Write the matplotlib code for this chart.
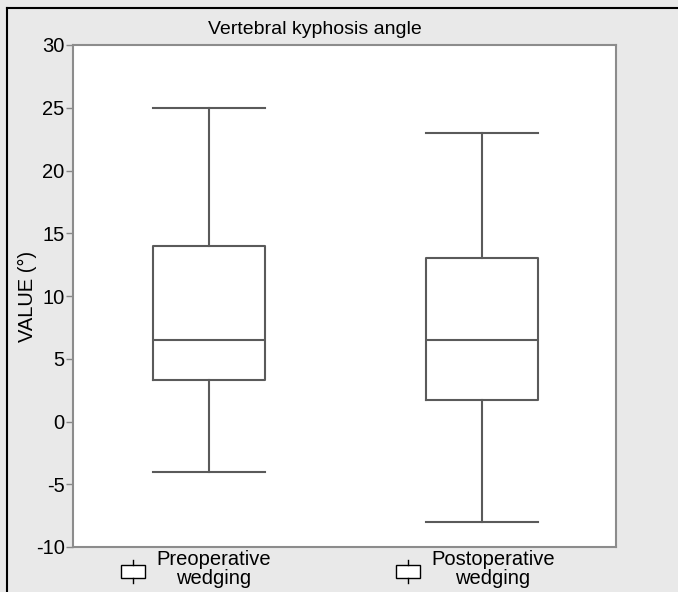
import matplotlib.pyplot as plt
from matplotlib.lines import Line2D
from matplotlib.patches import Rectangle
from matplotlib.legend_handler import HandlerBase

plt.rcParams['font.family'] = ['Liberation Sans', 'DejaVu Sans']
plt.rcParams['axes.unicode_minus'] = False

groups = ["Preoperative\nwedging", "Postoperative\nwedging"]
whisker_low = [-4, -8]
q1 = [3.3, 1.7]
median = [6.5, 6.5]
q3 = [14, 13]
whisker_high = [25, 23]

stats = []
for i, g in enumerate(groups):
    stats.append(dict(label=g, whislo=whisker_low[i], q1=q1[i], med=median[i],
                      q3=q3[i], whishi=whisker_high[i], fliers=[]))

line_col = "#5a5a5a"
bg = "#e9e9e9"

fig = plt.figure(figsize=(6.78, 5.92), dpi=100, facecolor=bg)
ax = fig.add_axes([73 / 678, 1 - 547 / 592, 543 / 678, 502 / 592])
ax.set_facecolor("white")

props = dict(color=line_col, linewidth=1.5)
ax.bxp(stats, positions=[1, 2], widths=0.41, showfliers=False,
       boxprops=props, whiskerprops=props, capprops=props,
       medianprops=props, capwidths=0.41)

ax.set_xlim(0.502, 2.491)
ax.set_ylim(-10, 30)
ax.set_yticks(range(-10, 31, 5))
ax.set_xticks([])
ax.tick_params(axis="y", length=5, width=1, color="#888888", labelsize=14.5, pad=1)
for s in ax.spines.values():
    s.set_color("#8c8c8c")
    s.set_linewidth(1.5)
ax.set_ylabel("VALUE (°)", fontsize=14.5)
ax.yaxis.set_label_coords(-0.066, 0.5)

fig.text(315 / 678, 1 - 30 / 592, "Vertebral kyphosis angle", ha="center",
         va="center", fontsize=14)


class BoxIcon(HandlerBase):
    def create_artists(self, legend, orig, xd, yd, w, h, fontsize, trans):
        r = Rectangle((xd, yd), w, h, facecolor="white", edgecolor="black",
                      lw=1, transform=trans)
        top = Line2D([xd + w / 2] * 2, [yd + h, yd + h * 1.45],
                     color="black", lw=1, transform=trans)
        bot = Line2D([xd + w / 2] * 2, [yd - h * 0.45, yd],
                     color="black", lw=1, transform=trans)
        return [r, top, bot]


handles = [Rectangle((0, 0), 1, 1) for _ in groups]
leg = fig.legend(handles, groups, handler_map={Rectangle: BoxIcon()},
                 loc="center", bbox_to_anchor=(338 / 678, 1 - 569 / 592),
                 ncol=2, frameon=False, fontsize=14.5, handlelength=1.2,
                 handleheight=0.55, handletextpad=0.55, columnspacing=6.2,
                 labelspacing=0, borderpad=0, borderaxespad=0)
for t in leg.get_texts():
    t.set_multialignment("center")
    t.set_linespacing(0.95)

# panel frame lines on top and left edges
fig.add_artist(Line2D([7 / 678, 7 / 678], [0, 1 - 8 / 592], color="black", lw=1.5,
                      transform=fig.transFigure))
fig.add_artist(Line2D([7 / 678, 1], [1 - 8 / 592, 1 - 8 / 592], color="black", lw=1.5,
                      transform=fig.transFigure))

fig.savefig("out.png", dpi=100, facecolor=bg)
